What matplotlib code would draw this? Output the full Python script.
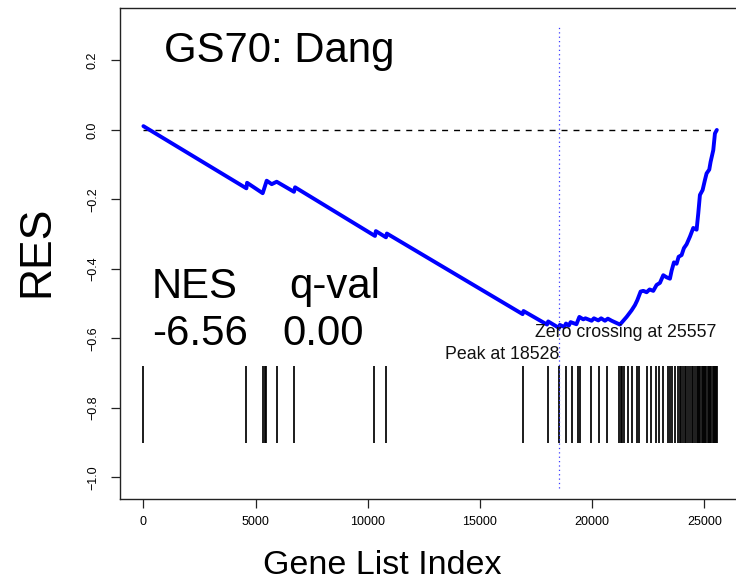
import matplotlib
matplotlib.use("Agg")
import matplotlib.pyplot as plt

# ---------------- data ----------------
res_index = [0, 4590, 4620, 5316, 5495, 5718, 5940, 6711, 6760,
             10321, 10360, 10811, 10850, 16901, 16940, 17990, 18040,
             18528, 18560, 18760, 18833, 18960, 19041, 19300, 19430,
             19605, 19700, 19976, 20080, 20274, 20400, 20571, 20700,
             20868, 21239, 21388, 21536, 21759, 21908, 22012, 22161,
             22279, 22428, 22560, 22725, 22873, 23022, 23170, 23319,
             23467, 23542, 23646, 23764, 23854, 23987, 24091, 24210,
             24359, 24507, 24656, 24730, 24804, 24923, 25027, 25101,
             25220, 25279, 25399, 25473, 25557]
res_value = [0.011, -0.168, -0.152, -0.182, -0.146, -0.156, -0.149, -0.178, -0.165,
             -0.305, -0.291, -0.309, -0.298, -0.530, -0.521, -0.560, -0.551,
             -0.570, -0.561, -0.567, -0.557, -0.563, -0.553, -0.559, -0.538,
             -0.545, -0.542, -0.549, -0.542, -0.548, -0.542, -0.549, -0.543,
             -0.549, -0.560, -0.549, -0.538, -0.519, -0.504, -0.490, -0.465,
             -0.463, -0.467, -0.459, -0.463, -0.446, -0.440, -0.418, -0.424,
             -0.428, -0.405, -0.381, -0.385, -0.365, -0.360, -0.340, -0.329,
             -0.307, -0.282, -0.287, -0.240, -0.187, -0.173, -0.144, -0.125,
             -0.114, -0.092, -0.058, -0.010, 0.000]

hit_index = [0, 4572, 5330, 5400, 5470, 5968, 6711, 10290, 10815,
             16930, 18044, 18528, 18820, 19087, 19380, 19440, 19934, 20290,
             20647, 21208, 21270, 21315, 21417, 21596, 21787, 21983, 22099,
             22429, 22607, 22843, 22977, 23142, 23378, 23467, 23579, 23690,
             23810, 23913, 23980, 24046, 24136, 24202, 24269, 24358, 24434,
             24505, 24581, 24657, 24715, 24768, 24822, 24875, 24929, 24982,
             25036, 25089, 25143, 25205, 25258, 25312, 25365, 25419, 25472,
             25526, 25557]

peak_index = 18528
zero_crossing = 25557
gene_set = "GS70: Dang"
nes_value = "-6.56"
q_value = "0.00"

x_ticks = [0, 5000, 10000, 15000, 20000, 25000]
y_ticks = [0.2, 0.0, -0.2, -0.4, -0.6, -0.8, -1.0]

# ---------------- figure ----------------
plt.rcParams["font.family"] = ["Liberation Sans", "DejaVu Sans"]

fig = plt.figure(figsize=(7.36, 5.87), dpi=100)
ax = fig.add_axes([0.1637, 0.1499, 0.8414, 0.8365])
ax.set_xlim(-1022, 26579)
ax.set_ylim(-1.062, 0.351)

for s in ax.spines.values():
    s.set_linewidth(1.0)
    s.set_color("#222222")

# zero line
ax.plot([0, zero_crossing], [0, 0], color="black", lw=1.0, dashes=(4.3, 4.3), zorder=2)
# hits
ax.vlines(hit_index, -0.90, -0.68, color="black", lw=1.25, zorder=2)
# peak line
ax.plot([peak_index, peak_index], [-1.03, 0.30], color="#3a3aff", lw=0.9,
        linestyle=(0, (1, 2.5)), zorder=4)
# running enrichment score
ax.plot(res_index, res_value, color="#0000ff", lw=2.8, solid_joinstyle="round",
        solid_capstyle="round", zorder=3)

ax.set_xticks(x_ticks)
ax.set_xticklabels([str(v) for v in x_ticks])
ax.set_yticks(y_ticks)
ax.set_yticklabels([f"{v:.1f}".replace("-", "\u2212") for v in y_ticks])
ax.tick_params(axis="both", direction="out", length=6.5, width=0.9, colors="#222222",
               labelsize=9, labelcolor="black")
ax.tick_params(axis="x", pad=6)
ax.tick_params(axis="y", pad=9)
for lab in ax.get_yticklabels():
    lab.set_rotation(90)
    lab.set_va("center")

ax.set_xlabel("Gene List Index", fontsize=24.5)
ax.xaxis.label.set_va("center")
ax.xaxis.set_label_coords(0.422, -0.1344)
ax.set_ylabel("RES", fontsize=32)
ax.yaxis.label.set_va("center")
ax.yaxis.set_label_coords(-0.1348, 0.504)

# annotations
small = dict(fontsize=12.8, color="#111111")
ax.text(zero_crossing, -0.596, f"Zero crossing at {zero_crossing}", ha="right",
        va="baseline", **small)
ax.text(peak_index, -0.659, f"Peak at {peak_index}", ha="right", va="baseline", **small)

big = dict(fontsize=30.2, color="black")
ax.text(918, 0.195, gene_set, ha="left", va="baseline", **big)
ax.text(380, -0.485, "NES", ha="left", va="baseline", **big)
ax.text(6500, -0.485, "q-val", ha="left", va="baseline", **big)
ax.text(380, -0.620, nes_value, ha="left", va="baseline", **big)
ax.text(6200, -0.620, q_value, ha="left", va="baseline", **big)

fig.savefig("out.png", dpi=100)
